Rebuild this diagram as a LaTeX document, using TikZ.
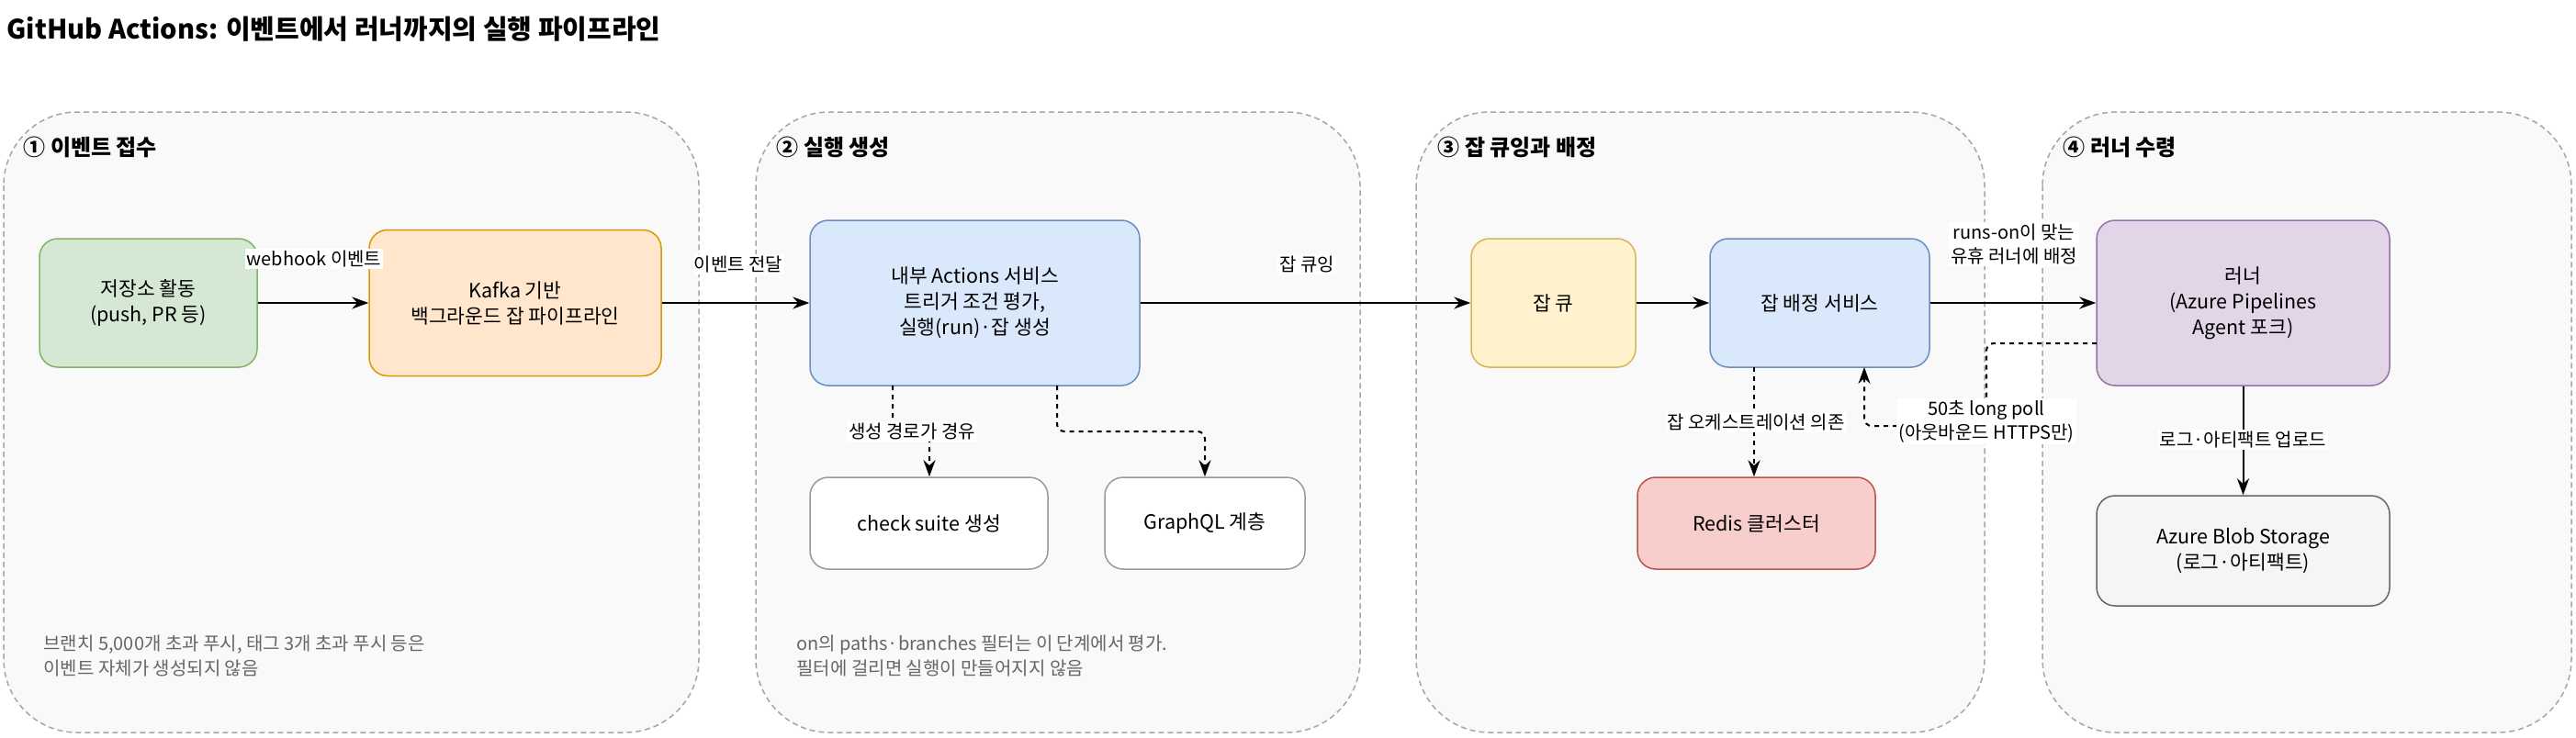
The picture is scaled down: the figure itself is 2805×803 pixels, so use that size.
\documentclass[tikz,border=0pt]{standalone}
\usepackage{fontspec}
\setmainfont{Noto Sans CJK KR}
\usetikzlibrary{arrows.meta}
\begin{document}
\begin{tikzpicture}[x=1pt,y=-1pt,
  grp/.style={draw=black!35,fill=black!2.5,line width=1.5pt,dash pattern=on 6pt off 4pt,rounded corners=80pt},
  gtitle/.style={anchor=west,font=\fontsize{24}{28}\selectfont\bfseries},
  box/.style={draw,line width=1.5pt,rounded corners=20pt,align=center,font=\fontsize{21.5}{28}\selectfont},
  lbl/.style={fill=white,inner sep=2pt,align=center,font=\fontsize{20}{26}\selectfont},
  note/.style={anchor=north west,align=left,text=black!60,font=\fontsize{20}{27}\selectfont},
  arr/.style={draw,line width=2pt,-{Stealth[length=18pt,width=13pt]}},
  darr/.style={draw,line width=2pt,dash pattern=on 5pt off 5pt,rounded corners=8pt,-{Stealth[length=18pt,width=13pt]}}]
\useasboundingbox[fill=white] (0,0) rectangle (2805,803);
\node[anchor=west,font=\fontsize{29}{33}\selectfont\bfseries] (title) at (4,32) {GitHub Actions: 이벤트에서 러너까지의 실행 파이프라인};
% groups
\draw[grp] (4,122) rectangle (761,798);
\draw[grp] (823,122) rectangle (1481,798);
\draw[grp] (1542,122) rectangle (2161,798);
\draw[grp] (2224,122) rectangle (2800,798);
\node[gtitle] (g1) at (22,160) {① 이벤트 접수};
\node[gtitle] (g2) at (842,160) {② 실행 생성};
\node[gtitle] (g3) at (1562,160) {③ 잡 큐잉과 배정};
\node[gtitle] (g4) at (2243,160) {④ 러너 수령};
% nodes
\node[box,draw={rgb,255:red,130;green,179;blue,102},fill={rgb,255:red,213;green,232;blue,212},minimum width=237pt,minimum height=140pt] (src) at (161.5,330) {저장소 활동\\(push, PR 등)};
\node[box,draw={rgb,255:red,215;green,155;blue,0},fill={rgb,255:red,255;green,230;blue,204},minimum width=318pt,minimum height=159pt] (kafka) at (561,330) {Kafka 기반\\백그라운드 잡 파이프라인};
\node[box,draw={rgb,255:red,108;green,142;blue,191},fill={rgb,255:red,218;green,232;blue,252},minimum width=359pt,minimum height=180pt] (act) at (1061.5,330) {내부 Actions 서비스\\트리거 조건 평가,\\실행(run)·잡 생성};
\node[box,draw=black!40,fill=white,minimum width=259pt,minimum height=100pt] (chk) at (1011.5,570) {check suite 생성};
\node[box,draw=black!40,fill=white,minimum width=218pt,minimum height=100pt] (gql) at (1312,570) {GraphQL 계층};
\node[box,draw={rgb,255:red,214;green,182;blue,86},fill={rgb,255:red,255;green,242;blue,204},minimum width=179pt,minimum height=140pt] (q) at (1691.5,330) {잡 큐};
\node[box,draw={rgb,255:red,108;green,142;blue,191},fill={rgb,255:red,218;green,232;blue,252},minimum width=239pt,minimum height=140pt] (disp) at (1981.5,330) {잡 배정 서비스};
\node[box,draw={rgb,255:red,184;green,84;blue,80},fill={rgb,255:red,248;green,206;blue,204},minimum width=259pt,minimum height=100pt] (redis) at (1912.5,570) {Redis 클러스터};
\node[box,draw={rgb,255:red,150;green,115;blue,166},fill={rgb,255:red,225;green,213;blue,231},minimum width=319pt,minimum height=180pt] (run) at (2442.5,330) {러너\\(Azure Pipelines\\Agent 포크)};
\node[box,draw=black!60,fill=black!4,minimum width=319pt,minimum height=120pt] (blob) at (2442.5,600) {Azure Blob Storage\\(로그·아티팩트)};
% edges
\draw[arr] (src) -- (kafka);
\node[lbl] (e1) at (342,282) {webhook 이벤트};
\draw[arr] (kafka) -- (act);
\node[lbl] (e2) at (804,288) {이벤트 전달};
\draw[arr] (act) -- (q);
\node[lbl] (e3) at (1423,288) {잡 큐잉};
\draw[arr] (q) -- (disp);
\draw[arr] (disp) -- (run);
\node[lbl] (e4) at (2193,266) {runs-on이 맞는\\유휴 러너에 배정};
\coordinate (a1) at (972,420);
\coordinate (a2) at (1151,420);
\draw[darr] (a1) -- (972,470) -- (1012,470) -- (chk.north -| 1012,0);
\node[lbl] (l1) at (993,470) {생성 경로가 경유};
\draw[darr] (a2) -- (1151,470) -- (1312,470) -- (gql.north);
\coordinate (d1) at (1910,400);
\draw[darr] (d1) -- (redis.north -| 1910,0);
\node[lbl] (l2) at (1912,460) {잡 오케스트레이션 의존};
\coordinate (r1) at (2283,374);
\coordinate (d2) at (2030,400);
\draw[darr] (r1) -- (2163,374) -- (2163,464) -- (2030,464) -- (d2);
\node[lbl] (l3) at (2163,459) {50초 long poll\\(아웃바운드 HTTPS만)};
\draw[arr] (run) -- (blob);
\node[lbl] (l4) at (2442.5,479) {로그·아티팩트 업로드};
% notes
\node[note] (n1) at (44,688) {브랜치 5,000개 초과 푸시, 태그 3개 초과 푸시 등은\\이벤트 자체가 생성되지 않음};
\node[note] (n2) at (864,688) {on의 paths·branches 필터는 이 단계에서 평가.\\필터에 걸리면 실행이 만들어지지 않음};
\end{tikzpicture}
\end{document}
